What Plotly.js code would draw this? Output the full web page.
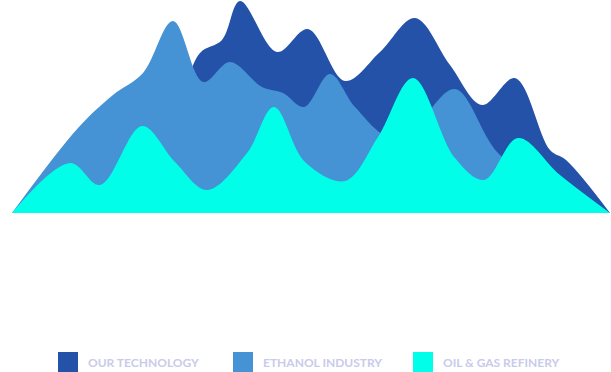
<!DOCTYPE html>
<html>
<head>
<meta charset="utf-8">
<script src="https://cdn.plot.ly/plotly-3.0.1.min.js"></script>
<style>html,body{margin:0;padding:0;background:#fff;}#chart{width:611px;height:372px;}</style>
</head>
<body>
<div id="chart"></div>
<script>
var seriesNames = ["OUR TECHNOLOGY", "ETHANOL INDUSTRY", "OIL & GAS REFINERY"];
var seriesColors = ["#2452a9", "#4592d4", "#00fee8"];

var techX = [12, 120, 175, 200, 222, 240, 277, 308, 345, 380, 415, 450, 482, 515, 550, 566, 610];
var techY = [0, 38, 103, 160, 173, 212, 161, 184, 132, 161, 195, 148, 108, 135, 63, 53, 0];

var ethanolX = [12, 78, 113, 143, 173, 203, 230, 262, 283, 304, 330, 355, 390, 420, 455, 498, 550, 610];
var ethanolY = [0, 85, 118, 140, 192, 131, 151, 126, 120, 106, 139, 106, 76, 93, 124, 60, 23, 0];

var oilX = [12, 70, 100, 142, 175, 207, 247, 274, 305, 345, 378, 413, 455, 484, 518, 560, 610];
var oilY = [0, 50, 28, 87, 51, 23, 60, 106, 51, 32, 76, 135, 55, 33, 75, 38, 0];

var xs = [techX, ethanolX, oilX];
var ys = [techY, ethanolY, oilY];
var legendIds = ["legend", "legend2", "legend3"];

var traces = [];
for (var i = 0; i < 3; i++) {
  traces.push({
    type: "scatter", mode: "lines", x: xs[i], y: ys[i],
    fill: "tozeroy", fillcolor: seriesColors[i],
    line: {shape: "spline", smoothing: 1, width: 0, color: seriesColors[i]},
    showlegend: false, hoverinfo: "skip"
  });
}
for (var j = 0; j < 3; j++) {
  traces.push({
    type: "scatter", mode: "markers", x: [null], y: [null], name: seriesNames[j],
    legend: legendIds[j],
    marker: {symbol: "square", size: 16, color: seriesColors[j], line: {width: 4, color: seriesColors[j]}},
    showlegend: true
  });
}

var legendFont = {family: "Lato, sans-serif", size: 12, color: "#c8cbea", weight: 700};
function mkLegend(px) {
  return {x: px / 611, xanchor: "left", y: (213 - 362) / 213, yanchor: "middle",
    orientation: "h", font: legendFont, itemsizing: "trace", bgcolor: "rgba(0,0,0,0)", borderwidth: 0};
}

var layout = {
  width: 611, height: 372,
  margin: {l: 0, r: 0, t: 0, b: 159, pad: 0, autoexpand: false},
  paper_bgcolor: "#ffffff", plot_bgcolor: "#ffffff",
  xaxis: {range: [0, 611], visible: false, fixedrange: true},
  yaxis: {range: [0, 213], visible: false, fixedrange: true},
  legend: mkLegend(48),
  legend2: mkLegend(223),
  legend3: mkLegend(403),
  showlegend: true
};

Plotly.newPlot("chart", traces, layout, {displayModeBar: false, staticPlot: true});
</script>
</body>
</html>
